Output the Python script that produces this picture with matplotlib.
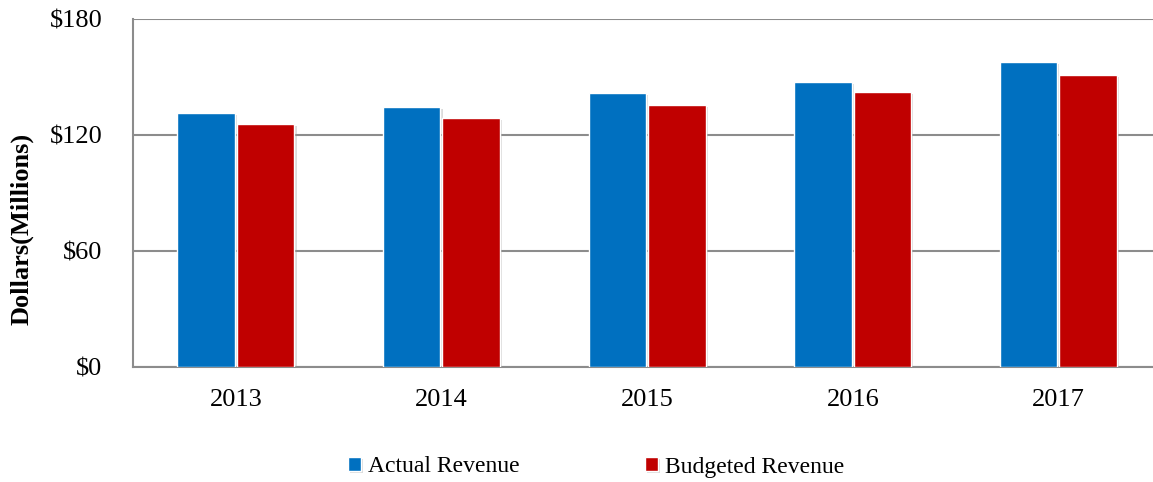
#!/usr/bin/env python3

import numpy as np
import matplotlib
matplotlib.use("Agg")
import matplotlib.pyplot as plt
import matplotlib.patheffects as pe

# Revenue data (millions of dollars)
years = ["2013", "2014", "2015", "2016", "2017"]
actual_revenue = [131.6, 134.7, 141.7, 147.7, 157.7]
budgeted_revenue = [125.8, 128.7, 135.6, 142.2, 151.1]
y_ticks = [0, 60, 120, 180]
y_tick_labels = ["$0", "$60", "$120", "$180"]

plt.rcParams['font.family'] = ['Liberation Serif', 'DejaVu Serif']

fig = plt.figure(figsize=(11.53, 4.82), dpi=100)
ax = fig.add_axes([133 / 1153, 1 - 366.7 / 482, 1 - 133 / 1153, (366.7 - 19.3) / 482])

x = np.arange(len(years))
width = 0.28
shadow = [pe.SimplePatchShadow(offset=(1.5, -1.5), shadow_rgbFace='#999999', alpha=0.35), pe.Normal()]

b1 = ax.bar(x - width / 2 - 0.005, actual_revenue, width, color='#0070C0',
            edgecolor='white', linewidth=1, label='Actual Revenue', zorder=3)
b2 = ax.bar(x + width / 2 + 0.005, budgeted_revenue, width, color='#C00000',
            edgecolor='white', linewidth=1, label='Budgeted Revenue', zorder=3)
for bar in list(b1) + list(b2):
    bar.set_path_effects(shadow)

ax.set_xlim(-0.5, 4.46)
ax.set_ylim(0, 180)
ax.set_yticks(y_ticks)
ax.set_yticklabels(y_tick_labels)
ax.set_xticks(x)
ax.set_xticklabels(years)
ax.tick_params(axis='y', length=0, pad=22, labelsize=19)
ax.tick_params(axis='x', length=0, pad=16, labelsize=19)

ax.grid(axis='y', color='#8c8c8c', linewidth=1.5, zorder=0, solid_capstyle='butt')
for side in ['top', 'right']:
    ax.spines[side].set_visible(False)
ax.spines['left'].set_color('#8c8c8c')
ax.spines['left'].set_linewidth(1.5)
ax.spines['bottom'].set_color('#8c8c8c')
ax.spines['bottom'].set_linewidth(1.5)

fig.text(22 / 1153, 1 - 229 / 482, 'Dollars(Millions)', rotation=90, fontsize=19,
         fontweight='bold', ha='center', va='center')

fig.legend(handles=[b1, b2], loc='center', bbox_to_anchor=(596 / 1153, 1 - 467 / 482),
           ncol=2, frameon=False, fontsize=17, handlelength=0.55, handleheight=0.55,
           handletextpad=0.3, columnspacing=5.3)

plt.savefig('out.png', dpi=100)
